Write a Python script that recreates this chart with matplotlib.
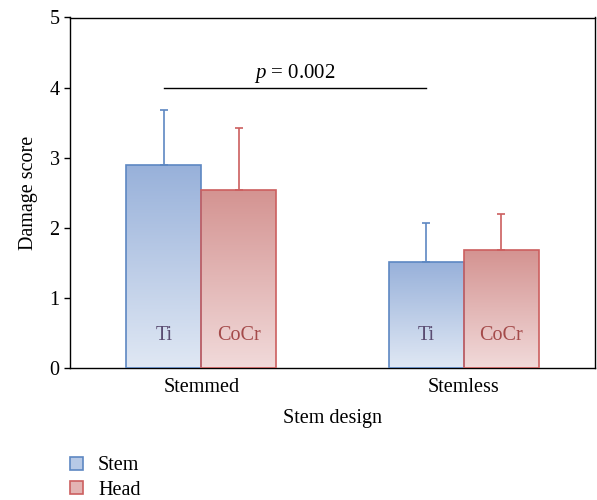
import numpy as np
import matplotlib
matplotlib.use("Agg")
import matplotlib.pyplot as plt
from matplotlib.colors import LinearSegmentedColormap
from matplotlib.patches import Patch

categories = ["Stemmed", "Stemless"]
series = ["Stem", "Head"]
bar_labels = ["Ti", "CoCr"]
stem_values = [2.89, 1.51]
stem_errors = [0.79, 0.555]
head_values = [2.54, 1.68]
head_errors = [0.88, 0.51]
p_text = "$p$ = 0.002"

plt.rcParams['font.family'] = ['Liberation Serif', 'DejaVu Serif']
plt.rcParams['mathtext.fontset'] = 'custom'
plt.rcParams['mathtext.it'] = 'Liberation Serif:italic'
plt.rcParams['mathtext.rm'] = 'Liberation Serif'

FS = 14.5

fig = plt.figure(figsize=(5.97, 5.0), dpi=100)
ax = fig.add_axes([0.1173, 0.264, 0.8793, 0.701])

width = 0.285
x = np.arange(len(categories))
edge_colors = ["#5d87c2", "#cc5f5f"]
top_colors = ["#98b1da", "#d49391"]
bot_colors = ["#e0e8f4", "#f1dada"]
text_colors = ["#5a4c72", "#a44a4a"]

data = [(stem_values, stem_errors), (head_values, head_errors)]
for i, (vals, errs) in enumerate(data):
    pos = x + (i - 0.5) * width
    bars = ax.bar(pos, vals, width, color="none", edgecolor=edge_colors[i], linewidth=1.2, zorder=3)
    cmap = LinearSegmentedColormap.from_list("g%d" % i, [bot_colors[i], top_colors[i]])
    for b in bars:
        x0, y0 = b.get_x(), b.get_y()
        w, h = b.get_width(), b.get_height()
        grad = np.linspace(0, 1, 256).reshape(-1, 1)
        im = ax.imshow(grad, extent=[x0, x0 + w, y0, y0 + h], origin="lower",
                       cmap=cmap, aspect="auto", zorder=2)
        im.set_clip_path(b)
    ax.errorbar(pos, vals, yerr=[np.zeros(len(vals)), errs], fmt="none",
                ecolor=edge_colors[i], elinewidth=1.2, capsize=3, capthick=1.2, zorder=4)
    for p in pos:
        ax.text(p, 0.47, bar_labels[i], ha="center", va="center", fontsize=FS,
                color=text_colors[i], zorder=5)

# significance line between Ti bars
xa = x[0] - 0.5 * width
xb = x[1] - 0.5 * width
ax.plot([xa, xb], [4.0, 4.0], color="black", linewidth=1.0, zorder=4)
ax.text((xa + xb) / 2, 4.03, p_text, ha="center", va="bottom", fontsize=15)

ax.set_xlim(-0.5, 1.5)
ax.set_ylim(0, 5)
ax.set_xticks(x)
ax.set_xticklabels(categories, fontsize=FS)
ax.set_yticks(range(0, 6))
ax.tick_params(axis="y", labelsize=FS, direction="out", length=4, width=1)
ax.tick_params(axis="x", length=0, pad=7)
ax.set_xlabel("Stem design", fontsize=FS, labelpad=9)
ax.set_ylabel("Damage score", fontsize=FS, labelpad=8)
for s in ax.spines.values():
    s.set_linewidth(1.0)

handles = [Patch(facecolor="#b7c9e6", edgecolor=edge_colors[0], linewidth=1.2),
           Patch(facecolor="#e3b4b3", edgecolor=edge_colors[1], linewidth=1.2)]
fig.legend(handles, series, loc="upper left", bbox_to_anchor=(0.117, 0.087),
           frameon=False, fontsize=FS, handlelength=0.65, handleheight=0.65,
           handletextpad=0.75, labelspacing=0.25, borderaxespad=0, borderpad=0)

fig.savefig("out.png", dpi=100)
